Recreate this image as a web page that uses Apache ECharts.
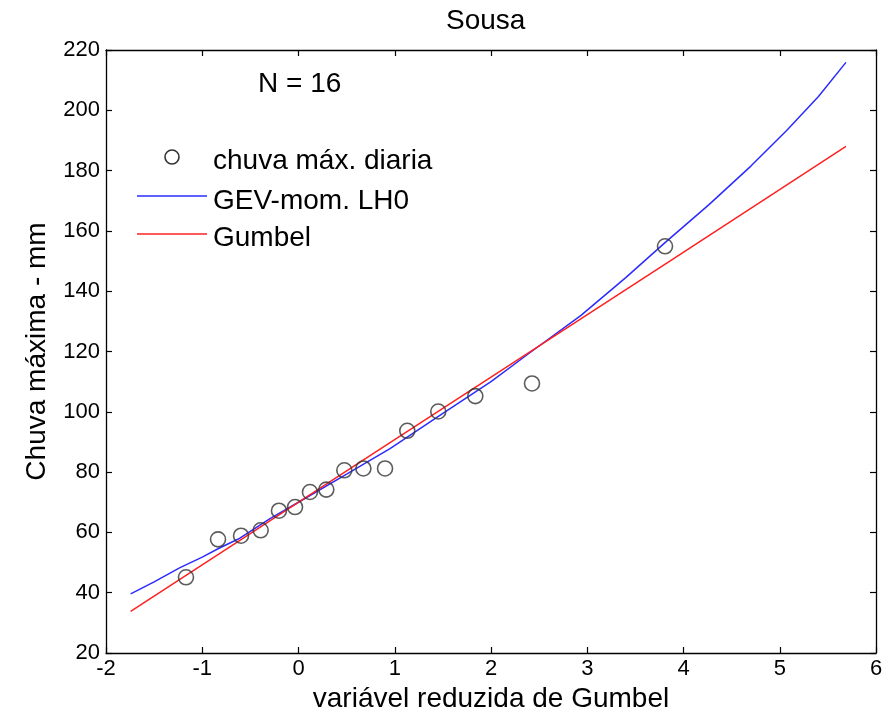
<!DOCTYPE html>
<html>
<head>
<meta charset="utf-8">
<title>Sousa</title>
<script src="https://cdn.jsdelivr.net/npm/echarts@6/dist/echarts.min.js"></script>
<style>
  html, body { margin: 0; padding: 0; background: #fff; }
  #chart { width: 887px; height: 718px; }
</style>
</head>
<body>
<div id="chart"></div>
<script>
// Observed annual maximum daily rainfall vs. Gumbel reduced variate
const reducedVariate = [-1.169, -0.836, -0.597, -0.393, -0.203, -0.036, 0.119, 0.289,
                        0.476, 0.674, 0.899, 1.130, 1.452, 1.837, 2.426, 3.808];
const rainMax = [45.1, 57.7, 58.9, 60.7, 67.2, 68.4, 73.4, 74.2,
                 80.6, 81.2, 81.2, 93.7, 100.1, 105.2, 109.4, 154.9];

// GEV (L-moments) fitted quantile curve
const gevX = [-1.744, -1.5, -1.231, -1.0, -0.816, -0.625, -0.296, 0.0, 0.5, 0.951,
              1.5, 2.0, 2.4, 2.935, 3.4, 3.808, 4.265, 4.7, 5.069, 5.4, 5.688];
const gevY = [39.6, 43.6, 48.3, 51.8, 54.9, 57.8, 64.6, 70.0, 79.3, 87.8,
              99.5, 110.0, 119.5, 132.0, 144.5, 156.1, 168.7, 181.5, 193.2, 204.5, 215.9];

// Gumbel fitted line
const gumbelX = [-1.744, -0.625, 0.951, 3.81, 5.688];
const gumbelY = [33.8, 57.0, 89.8, 149.0, 188.0];

// Axis ranges and ticks
const xTicks = [-2, -1, 0, 1, 2, 3, 4, 5, 6];
const yTicks = [20, 40, 60, 80, 100, 120, 140, 160, 180, 200, 220];

const legendLabels = ['chuva máx. diaria', 'GEV-mom. LH0', 'Gumbel'];
const sampleSizeLabel = 'N = 16';

const FONT = '"Liberation Sans", Arial, sans-serif';
const TEXT_SIZE = 28;
const zip = (a, b) => a.map((v, i) => [v, b[i]]);

const chart = echarts.init(document.getElementById('chart'), null, { renderer: 'canvas' });

const axisLine = { show: true, onZero: false, lineStyle: { color: '#000', width: 1.3 } };
const tickStyle = { show: true, inside: true, length: 6, lineStyle: { color: '#000', width: 1.2 } };
const tickFont = { fontFamily: FONT, fontSize: 22, color: '#000' };

chart.setOption({
  backgroundColor: '#ffffff',
  animation: false,
  title: {
    text: 'Sousa',
    left: 441,
    top: 2,
    textStyle: { fontFamily: FONT, fontSize: TEXT_SIZE, fontWeight: 'normal', color: '#000' }
  },
  grid: { left: 106, top: 50, right: 11, bottom: 63, containLabel: false },
  xAxis: [
    {
      type: 'value', position: 'bottom',
      min: xTicks[0], max: xTicks[xTicks.length - 1], interval: 1,
      name: 'variável reduzida de Gumbel', nameLocation: 'middle', nameGap: 32,
      nameTextStyle: { fontFamily: FONT, fontSize: TEXT_SIZE, color: '#000' },
      axisLine: axisLine, axisTick: tickStyle,
      axisLabel: Object.assign({ margin: 5 }, tickFont),
      splitLine: { show: false }
    },
    {
      type: 'value', position: 'top',
      min: xTicks[0], max: xTicks[xTicks.length - 1], interval: 1,
      axisLine: axisLine, axisTick: tickStyle,
      axisLabel: { show: false }, splitLine: { show: false }
    }
  ],
  yAxis: [
    {
      type: 'value', position: 'left',
      min: yTicks[0], max: yTicks[yTicks.length - 1], interval: 20,
      name: 'Chuva máxima - mm', nameLocation: 'middle', nameGap: 55,
      nameTextStyle: { fontFamily: FONT, fontSize: TEXT_SIZE, color: '#000' },
      axisLine: axisLine, axisTick: tickStyle,
      axisLabel: Object.assign({ margin: 6 }, tickFont),
      splitLine: { show: false }
    },
    {
      type: 'value', position: 'right',
      min: yTicks[0], max: yTicks[yTicks.length - 1], interval: 20,
      axisLine: axisLine, axisTick: tickStyle,
      axisLabel: { show: false }, splitLine: { show: false }
    }
  ],
  series: [
    {
      name: legendLabels[1],
      type: 'line',
      data: zip(gevX, gevY),
      showSymbol: false,
      smooth: false,
      lineStyle: { color: '#2b2bff', width: 1.5 },
      z: 2
    },
    {
      name: legendLabels[2],
      type: 'line',
      data: zip(gumbelX, gumbelY),
      showSymbol: false,
      lineStyle: { color: '#ff2020', width: 1.5 },
      z: 3
    },
    {
      name: legendLabels[0],
      type: 'scatter',
      data: zip(reducedVariate, rainMax),
      symbol: 'circle',
      symbolSize: 15,
      itemStyle: { color: 'rgba(0,0,0,0)', borderColor: '#333', borderWidth: 1.6 },
      z: 4
    }
  ],
  graphic: [
    { type: 'text', x: 258, y: 84,
      style: { text: sampleSizeLabel, font: TEXT_SIZE + 'px ' + FONT, fill: '#000', verticalAlign: 'middle' } },
    // legend: marker
    { type: 'circle', shape: { cx: 172, cy: 157, r: 7 },
      style: { fill: 'none', stroke: '#333', lineWidth: 1.6 } },
    { type: 'text', x: 213, y: 161,
      style: { text: legendLabels[0], font: TEXT_SIZE + 'px ' + FONT, fill: '#000', verticalAlign: 'middle' } },
    // legend: GEV line
    { type: 'line', shape: { x1: 137, y1: 196, x2: 207, y2: 196 },
      style: { stroke: '#2b2bff', lineWidth: 1.5 } },
    { type: 'text', x: 213, y: 201,
      style: { text: legendLabels[1], font: TEXT_SIZE + 'px ' + FONT, fill: '#000', verticalAlign: 'middle' } },
    // legend: Gumbel line
    { type: 'line', shape: { x1: 137, y1: 234, x2: 207, y2: 234 },
      style: { stroke: '#ff2020', lineWidth: 1.5 } },
    { type: 'text', x: 213, y: 238,
      style: { text: legendLabels[2], font: TEXT_SIZE + 'px ' + FONT, fill: '#000', verticalAlign: 'middle' } }
  ]
});
</script>
</body>
</html>
